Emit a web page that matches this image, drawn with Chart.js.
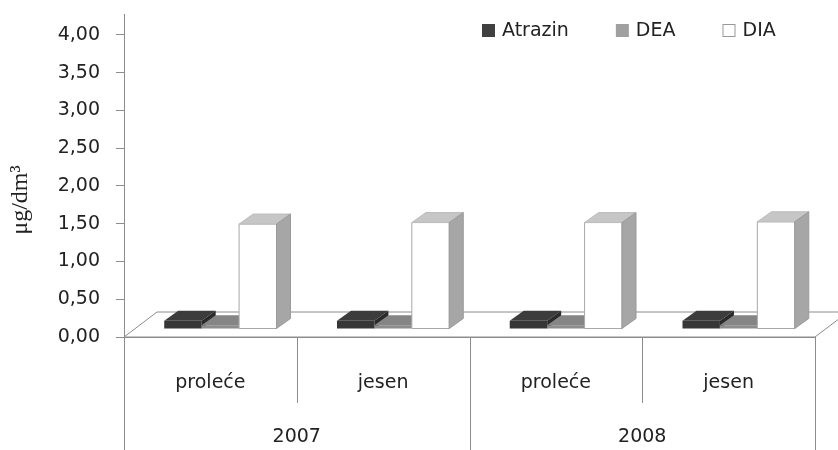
<!DOCTYPE html>
<html>
<head>
<meta charset="utf-8">
<script src="https://cdn.jsdelivr.net/npm/chart.js"></script>
<style>
  html, body { margin: 0; padding: 0; background: #fff; }
</style>
</head>
<body>
<canvas id="chart" width="838" height="450"></canvas>
<script>
// podaci sa grafika
const seasons = ['proleće', 'jesen', 'proleće', 'jesen'];
const years = ['2007', '2008'];
const seriesNames = ['Atrazin', 'DEA', 'DIA'];
const atrazin = [0.11, 0.11, 0.11, 0.11];
const dea = [0.05, 0.05, 0.05, 0.05];
const dia = [1.39, 1.41, 1.41, 1.42];
const yTicks = [0, 0.5, 1, 1.5, 2, 2.5, 3, 3.5, 4];

// boje za front, vrh i bok stubica
const looks = [
    { front: '#363636', top: '#3c3c3c', side: '#2a2a2a', line: null, key: '#404040' },
    { front: '#8c8c8c', top: '#858585', side: '#7a7a7a', line: null, key: '#a0a0a0' },
    { front: '#ffffff', top: '#c6c6c6', side: '#a6a6a6', line: '#a8a8a8', key: '#ffffff' }
];

const shift = { x: 10, y: -8 };   // stubici stoje malo dublje na podu
const depth = { x: 14, y: -10 };  // dubina stubica
const floorDepth = { x: 33, y: -25 };
const axisColor = '#8c8c8c';
const textFont = '"DejaVu Sans", sans-serif';

function poly(ctx, pts, fill, stroke) {
    ctx.beginPath();
    ctx.moveTo(pts[0][0], pts[0][1]);
    for (let i = 1; i < pts.length; i++) ctx.lineTo(pts[i][0], pts[i][1]);
    ctx.closePath();
    if (fill) { ctx.fillStyle = fill; ctx.fill(); }
    if (stroke) { ctx.strokeStyle = stroke; ctx.lineWidth = 1; ctx.stroke(); }
}

// pod i 3D stubici
const bars3d = {
    id: 'bars3d',
    beforeDatasetsDraw(chart) {
        const ctx = chart.ctx;
        const a = chart.chartArea;
        ctx.save();
        poly(ctx, [
            [a.left, a.bottom],
            [a.left + floorDepth.x, a.bottom + floorDepth.y],
            [a.right + floorDepth.x, a.bottom + floorDepth.y],
            [a.right, a.bottom]
        ], '#ffffff', axisColor);

        for (let i = 0; i < seasons.length; i++) {
            chart.data.datasets.forEach((ds, d) => {
                const bar = chart.getDatasetMeta(d).data[i];
                const p = bar.getProps(['x', 'y', 'base', 'width'], true);
                const l = p.x - p.width / 2 + shift.x;
                const r = p.x + p.width / 2 + shift.x;
                const t = p.y + shift.y;
                const b = p.base + shift.y;
                const lk = looks[d];
                poly(ctx, [[l, b], [l, t], [r, t], [r, b]], lk.front, lk.line);
                poly(ctx, [[l, t], [l + depth.x, t + depth.y], [r + depth.x, t + depth.y], [r, t]], lk.top, lk.line ? '#bdbdbd' : null);
                poly(ctx, [[r, t], [r + depth.x, t + depth.y], [r + depth.x, b + depth.y], [r, b]], lk.side, lk.line ? '#9a9a9a' : null);
            });
        }
        ctx.restore();
        return false;
    }
};

// podela kategorija, godine, legenda i naslov ose
const decor = {
    id: 'decor',
    afterDraw(chart) {
        const ctx = chart.ctx;
        const x = chart.scales.x;
        const a = chart.chartArea;
        const half = (x.getPixelForValue(1) - x.getPixelForValue(0)) / 2;
        ctx.save();
        ctx.strokeStyle = axisColor;
        ctx.lineWidth = 1;
        // zid ide malo iznad 4,00
        ctx.beginPath();
        ctx.moveTo(Math.round(a.left) + 0.5, a.top);
        ctx.lineTo(Math.round(a.left) + 0.5, 14);
        ctx.stroke();
        for (let i = 0; i <= seasons.length; i++) {
            const px = Math.round(x.getPixelForValue(0) - half + i * 2 * half) + 0.5;
            const end = (i % 2 === 0) ? chart.height : 403;
            ctx.beginPath();
            ctx.moveTo(px, a.bottom);
            ctx.lineTo(px, end);
            ctx.stroke();
        }
        ctx.fillStyle = '#222';
        ctx.font = '19px ' + textFont;
        ctx.textAlign = 'center';
        ctx.textBaseline = 'middle';
        years.forEach((yr, k) => {
            const cx = (x.getPixelForValue(2 * k) + x.getPixelForValue(2 * k + 1)) / 2;
            ctx.fillText(yr, cx, 437);
        });

        // legenda
        ctx.textAlign = 'left';
        let lx = 482;
        chart.data.datasets.forEach((ds, d) => {
            const lk = looks[d];
            ctx.fillStyle = lk.key;
            ctx.fillRect(lx, 24, 13, 13);
            if (d === 2) {
                ctx.strokeStyle = '#999';
                ctx.strokeRect(lx + 0.5, 24.5, 12, 12);
            }
            ctx.fillStyle = '#222';
            ctx.fillText(ds.label, lx + 20, 31);
            lx += 20 + ctx.measureText(ds.label).width + 47;
        });

        // naslov y ose
        ctx.translate(21, 200);
        ctx.rotate(-Math.PI / 2);
        ctx.textAlign = 'center';
        ctx.font = '24px "Liberation Serif", serif';
        ctx.fillText('μg/dm³', 0, 0);
        ctx.restore();
    }
};

new Chart(document.getElementById('chart'), {
    type: 'bar',
    data: {
        labels: seasons,
        datasets: [
            { label: seriesNames[0], data: atrazin, backgroundColor: looks[0].key },
            { label: seriesNames[1], data: dea, backgroundColor: looks[1].key },
            { label: seriesNames[2], data: dia, backgroundColor: looks[2].key, borderColor: '#999' }
        ]
    },
    options: {
        responsive: false,
        animation: false,
        layout: { padding: { top: 0, right: 23, bottom: 0, left: 0 } },
        datasets: { bar: { categoryPercentage: 0.65, barPercentage: 1 } },
        plugins: {
            legend: { display: false },
            tooltip: { enabled: false }
        },
        scales: {
            x: {
                grid: { display: false },
                border: { display: true, color: axisColor },
                ticks: { color: '#222', font: { family: textFont, size: 19 }, padding: 27, maxRotation: 0 },
                afterFit(scale) { scale.height = 113; }
            },
            y: {
                min: 0,
                max: 4.226,
                afterBuildTicks(scale) {
                    scale.ticks = yTicks.map(v => ({ value: v }));
                },
                grid: { drawOnChartArea: false, tickLength: 8, color: axisColor },
                border: { display: true, color: axisColor },
                ticks: {
                    color: '#222',
                    font: { family: textFont, size: 19, lineHeight: 0.2 },
                    padding: 16,
                    callback: v => v.toFixed(2).replace('.', ',')
                },
                afterFit(scale) { scale.width = 124; }
            }
        }
    },
    plugins: [bars3d, decor]
});
</script>
</body>
</html>
